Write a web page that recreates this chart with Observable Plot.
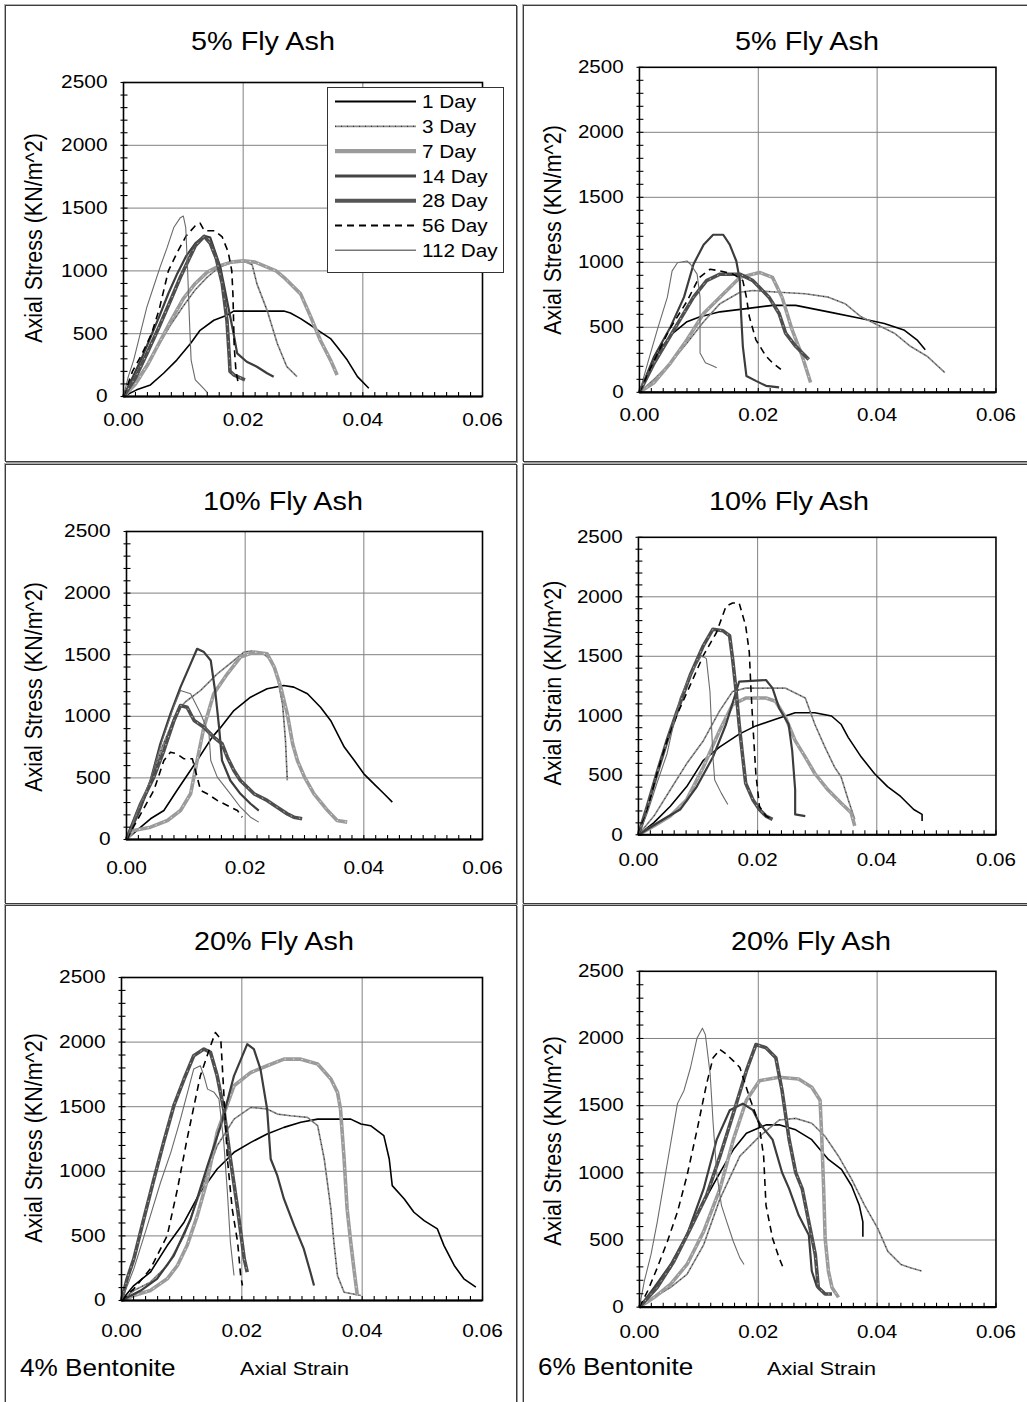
<!DOCTYPE html>
<html>
<head>
<meta charset="utf-8">
<script src="https://cdn.jsdelivr.net/npm/d3@7"></script>
<script src="https://cdn.jsdelivr.net/npm/@observablehq/plot@0.6"></script>
<style>
  html, body { margin: 0; padding: 0; background: #fff; }
  #page { position: relative; width: 1027px; height: 1402px; overflow: hidden; background: #fff;
          font-family: "Liberation Sans", Arial, Helvetica, sans-serif; color: #000; }
  .box { position: absolute; border: 1px solid #3c3c3c; box-shadow: 1px 1px 0 #9a9a9a, -1px -1px 0 #b0b0b0; }
  .panel { position: absolute; }
  .panel svg { overflow: visible; }
</style>
</head>
<body>
<div id="page"></div>
<script>
// ---------------- data ----------------
const days = ["1 Day", "3 Day", "7 Day", "14 Day", "28 Day", "56 Day", "112 Day"];
const xTicks = [0, 0.02, 0.04, 0.06];
const yTicks = [0, 500, 1000, 1500, 2000, 2500];
const titles = ["5% Fly Ash", "5% Fly Ash", "10% Fly Ash", "10% Fly Ash", "20% Fly Ash", "20% Fly Ash"];
const yLabels = ["Axial Stress (KN/m^2)", "Axial Stress (KN/m^2)", "Axial Stress (KN/m^2)",
                 "Axial Strain (KN/m^2)", "Axial Stress (KN/m^2)", "Axial Stress (KN/m^2)"];
const bentoniteLabels = ["4% Bentonite", "6% Bentonite"];
const xAxisTitle = "Axial Strain";

// [axial strain, axial stress kN/m^2]
// 4% bentonite, 5% fly ash
const b4fa5_d1 = [[0,0],[0.0022,53],[0.0045,92],[0.0067,185],[0.0089,290],[0.0112,422],[0.0128,527],[0.0151,607],[0.0173,646],[0.0184,680],[0.0268,680],[0.0279,665],[0.0296,620],[0.0313,567],[0.0329,514],[0.0346,461],[0.0357,396],[0.0374,290],[0.0391,158],[0.0410,66]];
const b4fa5_d3 = [[0,0],[0.002,120],[0.004,260],[0.006,420],[0.008,580],[0.010,720],[0.012,850],[0.014,950],[0.016,1030],[0.018,1065],[0.020,1080],[0.0215,1050],[0.0223,897],[0.024,686],[0.0257,422],[0.0273,237],[0.029,158]];
const b4fa5_d7 = [[0,0],[0.002,100],[0.004,250],[0.006,430],[0.008,610],[0.010,780],[0.012,900],[0.014,990],[0.016,1040],[0.018,1070],[0.020,1080],[0.022,1070],[0.024,1030],[0.0255,1000],[0.0268,949],[0.0296,817],[0.0313,633],[0.0329,448],[0.0346,290],[0.0357,171]];
const b4fa5_d14 = [[0,0],[0.0015,150],[0.003,300],[0.0045,470],[0.006,640],[0.0075,820],[0.009,980],[0.0105,1120],[0.012,1220],[0.0135,1280],[0.0145,1266],[0.0162,1028],[0.0173,765],[0.0184,500],[0.019,343],[0.0206,277],[0.0223,237],[0.024,185],[0.0251,158]];
const b4fa5_d28 = [[0,0],[0.002,150],[0.004,350],[0.006,560],[0.008,780],[0.0095,950],[0.011,1100],[0.012,1200],[0.0135,1275],[0.0145,1220],[0.0155,1100],[0.0165,900],[0.0173,600],[0.0177,300],[0.0178,200],[0.0185,170],[0.0203,132]];
const b4fa5_d56 = [[0,0],[0.0015,200],[0.003,330],[0.0047,500],[0.006,700],[0.0075,1000],[0.009,1150],[0.0105,1280],[0.012,1360],[0.0128,1380],[0.0135,1320],[0.0152,1320],[0.0165,1270],[0.0175,1150],[0.0181,1000],[0.0183,800],[0.0185,400],[0.0188,200],[0.0192,100]];
const b4fa5_d112 = [[0,0],[0.0008,158],[0.0017,290],[0.0028,500],[0.0039,712],[0.005,870],[0.0061,1028],[0.0073,1187],[0.0084,1345],[0.0095,1424],[0.010,1437],[0.0104,1345],[0.0107,1028],[0.011,633],[0.0113,290],[0.012,132],[0.0131,79],[0.014,32]];

// 6% bentonite, 5% fly ash
const b6fa5_d1 = [[0,0],[0.0015,150],[0.0035,330],[0.0055,450],[0.008,543],[0.0102,581],[0.01355,619],[0.018,644],[0.0224,669],[0.0263,669],[0.0318,619],[0.0373,568],[0.0412,530],[0.0445,480],[0.0467,404],[0.0481,328]];
const b6fa5_d3 = [[0,0],[0.0025,101],[0.00525,227],[0.008,379],[0.0108,543],[0.01355,682],[0.0169,770],[0.0191,783],[0.0235,770],[0.0279,758],[0.0318,732],[0.0346,682],[0.0373,581],[0.0401,518],[0.0429,455],[0.0456,354],[0.0484,278],[0.0514,152]];
const b6fa5_d7 = [[0,0],[0.0025,76],[0.00525,227],[0.008,404],[0.0108,606],[0.01355,732],[0.0169,884],[0.0202,922],[0.0224,884],[0.024,732],[0.0257,480],[0.0274,278],[0.0288,76]];
const b6fa5_d14 = [[0,0],[0.0025,278],[0.00525,505],[0.0075,732],[0.0091,985],[0.0108,1136],[0.0124,1212],[0.0141,1212],[0.0152,1136],[0.0163,1010],[0.0169,859],[0.0171,606],[0.0174,354],[0.018,126],[0.0196,88],[0.0213,50],[0.0235,38]];
const b6fa5_d28 = [[0,0],[0.0025,227],[0.0058,480],[0.0091,732],[0.0113,859],[0.01355,909],[0.0169,909],[0.0191,859],[0.0218,732],[0.0235,606],[0.0246,455],[0.0263,354],[0.0285,253]];
const b6fa5_d56 = [[0,0],[0.002,200],[0.005,480],[0.008,700],[0.010,880],[0.0119,947],[0.01355,934],[0.0158,909],[0.0174,859],[0.018,732],[0.0185,581],[0.0196,404],[0.0213,278],[0.0224,227],[0.0238,177]];
const b6fa5_d112 = [[0,0],[0.0014,227],[0.003,480],[0.0047,732],[0.0055,934],[0.0064,997],[0.008,1010],[0.0086,985],[0.0097,909],[0.0102,732],[0.0102,303],[0.0111,227],[0.0124,202],[0.013,189]];

// 4% bentonite, 10% fly ash
const b4fa10_d1 = [[0,0],[0.0024,100],[0.00405,168],[0.0063,235],[0.0085,398],[0.0102,520],[0.0119,641],[0.01445,831],[0.0159,912],[0.0181,1047],[0.0209,1155],[0.0237,1223],[0.0265,1250],[0.0282,1237],[0.0305,1183],[0.0327,1074],[0.0344,966],[0.0367,750],[0.0384,641],[0.040,533],[0.0417,452],[0.0434,371],[0.0448,303]];
const b4fa10_d3 = [[0,0],[0.002,200],[0.004,450],[0.006,750],[0.008,980],[0.0091,1074],[0.010,1120],[0.0125,1210],[0.0153,1345],[0.0181,1453],[0.0198,1521],[0.021,1530],[0.023,1510],[0.0245,1450],[0.0255,1300],[0.0263,1100],[0.0268,800],[0.0271,480]];
const b4fa10_d7 = [[0,0],[0.0012,73],[0.00405,100],[0.0069,154],[0.0091,235],[0.0108,371],[0.0119,641],[0.01305,912],[0.0147,1183],[0.017,1345],[0.0192,1480],[0.0215,1521],[0.0237,1507],[0.0249,1399],[0.026,1237],[0.0271,1020],[0.028,777],[0.0288,641],[0.030,506],[0.0316,371],[0.0339,235],[0.0355,154],[0.0372,141]];
const b4fa10_d14 = [[0,0],[0.0024,262],[0.00405,479],[0.0057,777],[0.0074,1020],[0.0091,1237],[0.0108,1426],[0.0119,1548],[0.01305,1521],[0.0142,1453],[0.015,1183],[0.0156,912],[0.0161,641],[0.0175,479],[0.0192,371],[0.0209,290],[0.0223,235]];
const b4fa10_d28 = [[0,0],[0.0024,290],[0.0046,506],[0.0063,722],[0.008,966],[0.0091,1088],[0.0102,1074],[0.0114,966],[0.01305,912],[0.0147,831],[0.0161,777],[0.017,668],[0.0181,560],[0.0192,479],[0.0215,371],[0.0237,317],[0.0254,262],[0.0271,208],[0.0282,181],[0.0296,168]];
const b4fa10_d56 = [[0,0],[0.0024,208],[0.0046,398],[0.0063,641],[0.0074,709],[0.0085,695],[0.0097,655],[0.0111,655],[0.0119,506],[0.0125,398],[0.0136,371],[0.0153,317],[0.017,276],[0.0187,235],[0.0195,181]];
const b4fa10_d112 = [[0,0],[0.002,250],[0.004,480],[0.006,800],[0.008,1080],[0.0091,1210],[0.0108,1183],[0.0125,1020],[0.0139,858],[0.0142,641],[0.0153,506],[0.0175,371],[0.0192,262],[0.0209,181],[0.0223,141]];

// 6% bentonite, 10% fly ash
const b6fa10_d1 = [[0,0],[0.0026,102],[0.00535,240],[0.0081,405],[0.0109,626],[0.0136,736],[0.0169,846],[0.0197,915],[0.023,970],[0.0263,1025],[0.0296,1025],[0.0324,998],[0.034,929],[0.0352,819],[0.0374,653],[0.0396,515],[0.0418,405],[0.044,322],[0.0462,212],[0.0476,171],[0.0476,116]];
const b6fa10_d3 = [[0,0],[0.0026,157],[0.00535,378],[0.0081,598],[0.0109,791],[0.0136,1039],[0.0158,1204],[0.018,1232],[0.0247,1232],[0.028,1149],[0.0296,929],[0.0313,736],[0.0329,570],[0.034,488],[0.0352,295],[0.0363,130]];
const b6fa10_d7 = [[0,0],[0.0026,74],[0.00535,157],[0.0081,295],[0.0109,570],[0.0136,874],[0.0158,1094],[0.018,1149],[0.0214,1149],[0.023,1122],[0.0247,984],[0.0263,791],[0.028,653],[0.0296,515],[0.0318,378],[0.034,267],[0.0357,185],[0.0363,74]];
const b6fa10_d14 = [[0,0],[0.0042,130],[0.007,212],[0.0098,405],[0.0125,653],[0.0147,929],[0.0164,1204],[0.0169,1287],[0.0214,1301],[0.0225,1232],[0.0236,1066],[0.0252,929],[0.0258,708],[0.0263,378],[0.0263,171],[0.028,157]];
const b6fa10_d28 = [[0,0],[0.0015,240],[0.0031,515],[0.0048,791],[0.0065,1039],[0.0087,1342],[0.0109,1590],[0.0125,1728],[0.0142,1714],[0.0153,1673],[0.0158,1480],[0.0164,1204],[0.0169,929],[0.0175,653],[0.018,433],[0.0192,295],[0.0203,212],[0.0214,157],[0.0225,130]];
const b6fa10_d56 = [[0,0],[0.0015,212],[0.0031,515],[0.0048,791],[0.0065,1011],[0.0087,1259],[0.0109,1507],[0.0131,1700],[0.0147,1921],[0.0158,1948],[0.0169,1948],[0.018,1755],[0.0186,1535],[0.0189,1204],[0.0192,929],[0.0197,515],[0.0203,240],[0.0214,157],[0.0225,130]];
const b6fa10_d112 = [[0,0],[0.0015,185],[0.0031,433],[0.0048,681],[0.0059,929],[0.007,1149],[0.0087,1342],[0.0106,1507],[0.0114,1480],[0.012,1204],[0.01225,929],[0.0125,653],[0.0128,460],[0.0139,350],[0.015,254]];

// 4% bentonite, 20% fly ash
const b4fa20_d1 = [[0,0],[0.00205,116],[0.0048,219],[0.0076,425],[0.0104,606],[0.0131,838],[0.0159,1018],[0.0187,1147],[0.0215,1224],[0.0242,1289],[0.027,1340],[0.0298,1379],[0.0326,1404],[0.0381,1404],[0.0398,1366],[0.0414,1353],[0.0436,1276],[0.0445,1095],[0.045,889],[0.047,786],[0.0486,683],[0.0503,618],[0.0525,554],[0.0536,425],[0.0553,271],[0.0569,168],[0.0589,103]];
const b4fa20_d3 = [[0,0],[0.00205,77],[0.0048,142],[0.0076,271],[0.0104,502],[0.0131,838],[0.0159,1198],[0.0187,1404],[0.0215,1495],[0.0242,1482],[0.0259,1443],[0.0281,1430],[0.0309,1417],[0.0326,1353],[0.0337,1095],[0.0348,709],[0.0353,451],[0.0359,193],[0.037,64],[0.0398,39]];
const b4fa20_d7 = [[0,0],[0.00205,39],[0.0048,77],[0.0076,168],[0.0093,271],[0.0109,425],[0.0126,657],[0.0143,941],[0.0159,1301],[0.0187,1662],[0.0215,1765],[0.0242,1817],[0.027,1868],[0.0298,1868],[0.0326,1830],[0.0348,1714],[0.0359,1611],[0.0364,1482],[0.037,1095],[0.0375,709],[0.0381,451],[0.0387,219],[0.0392,39]];
const b4fa20_d14 = [[0,0],[0.0032,77],[0.0059,168],[0.0087,348],[0.0115,631],[0.0143,1044],[0.0165,1353],[0.0187,1739],[0.0209,1984],[0.022,1946],[0.0231,1791],[0.0242,1482],[0.0248,1095],[0.0259,966],[0.027,786],[0.0287,580],[0.0303,399],[0.0314,219],[0.032,116]];
const b4fa20_d28 = [[0,0],[0.00094,168],[0.00205,322],[0.0037,631],[0.0054,941],[0.007,1224],[0.0087,1508],[0.0104,1714],[0.012,1894],[0.0137,1946],[0.0148,1920],[0.0159,1739],[0.017,1482],[0.0181,1095],[0.0193,709],[0.0204,322],[0.0209,219]];
const b4fa20_d56 = [[0,0],[0.00205,90],[0.0048,245],[0.0076,502],[0.0093,863],[0.0109,1250],[0.0131,1739],[0.0148,1971],[0.0156,2074],[0.0165,2023],[0.017,1611],[0.0176,1095],[0.0184,709],[0.0193,451],[0.0198,193],[0.0201,116]];
const b4fa20_d112 = [[0,0],[0.00205,245],[0.0043,580],[0.0065,915],[0.0082,1147],[0.0098,1404],[0.012,1791],[0.0131,1817],[0.0137,1739],[0.0143,1636],[0.0154,1611],[0.0162,1559],[0.017,1224],[0.0176,838],[0.0181,451],[0.0187,193]];

// 6% bentonite, 20% fly ash
const b6fa20_d1 = [[0,0],[0.0025,122],[0.00525,293],[0.008,538],[0.0108,782],[0.01355,1002],[0.0158,1173],[0.018,1295],[0.0213,1357],[0.0235,1357],[0.0263,1320],[0.029,1247],[0.0318,1100],[0.034,1026],[0.0357,904],[0.037,758],[0.0376,635],[0.0376,525]];
const b6fa20_d3 = [[0,0],[0.0025,73],[0.00525,147],[0.008,244],[0.0108,464],[0.01355,806],[0.0169,1124],[0.0202,1271],[0.0235,1393],[0.0263,1405],[0.029,1369],[0.03125,1271],[0.0335,1124],[0.0357,953],[0.0379,758],[0.0401,587],[0.0418,415],[0.044,318],[0.0456,293],[0.0475,269]];
const b6fa20_d7 = [[0,0],[0.0025,73],[0.00525,171],[0.008,318],[0.0108,562],[0.01355,880],[0.0158,1247],[0.018,1540],[0.0202,1686],[0.0235,1711],[0.0268,1699],[0.029,1637],[0.0304,1540],[0.0307,1247],[0.031,880],[0.03125,513],[0.0318,269],[0.0324,147],[0.0335,73]];
const b6fa20_d14 = [[0,0],[0.0025,147],[0.00525,318],[0.008,538],[0.0108,880],[0.013,1247],[0.0152,1466],[0.0174,1515],[0.0191,1466],[0.0202,1369],[0.0224,1247],[0.024,1002],[0.0252,880],[0.0268,684],[0.0285,538],[0.029,269],[0.0299,147]];
const b6fa20_d28 = [[0,0],[0.003,147],[0.0058,342],[0.0086,587],[0.0113,831],[0.01355,1124],[0.0158,1442],[0.018,1760],[0.0196,1955],[0.0213,1931],[0.02295,1857],[0.024,1613],[0.0252,1247],[0.0263,1002],[0.0274,880],[0.0285,635],[0.0296,391],[0.0301,147],[0.03125,98],[0.0324,98]];
const b6fa20_d56 = [[0,0],[0.0014,122],[0.003,293],[0.0047,489],[0.0064,709],[0.008,978],[0.0097,1320],[0.0113,1662],[0.0124,1857],[0.01355,1918],[0.01465,1882],[0.0158,1833],[0.0169,1784],[0.0185,1564],[0.0201,1369],[0.0209,1124],[0.0213,758],[0.0224,513],[0.0235,367],[0.0243,281]];
const b6fa20_d112 = [[0,0],[0.00083,196],[0.00194,391],[0.003,635],[0.0047,1075],[0.0064,1515],[0.0075,1613],[0.0086,1784],[0.0097,2004],[0.0106,2077],[0.0111,2028],[0.0119,1735],[0.0124,1369],[0.013,1002],[0.0138,758],[0.0147,635],[0.0158,489],[0.0169,367],[0.0176,318]];

const panelCurves = [
  [b4fa5_d1, b4fa5_d3, b4fa5_d7, b4fa5_d14, b4fa5_d28, b4fa5_d56, b4fa5_d112],
  [b6fa5_d1, b6fa5_d3, b6fa5_d7, b6fa5_d14, b6fa5_d28, b6fa5_d56, b6fa5_d112],
  [b4fa10_d1, b4fa10_d3, b4fa10_d7, b4fa10_d14, b4fa10_d28, b4fa10_d56, b4fa10_d112],
  [b6fa10_d1, b6fa10_d3, b6fa10_d7, b6fa10_d14, b6fa10_d28, b6fa10_d56, b6fa10_d112],
  [b4fa20_d1, b4fa20_d3, b4fa20_d7, b4fa20_d14, b4fa20_d28, b4fa20_d56, b4fa20_d112],
  [b6fa20_d1, b6fa20_d3, b6fa20_d7, b6fa20_d14, b6fa20_d28, b6fa20_d56, b6fa20_d112]
];

// ---------------- styles & layout ----------------
const seriesStyle = {
  "1 Day":   [{stroke: "#000", strokeWidth: 1.6}],
  "3 Day":   [{stroke: "#8a8a8a", strokeWidth: 1.7}, {stroke: "#1e1e1e", strokeWidth: 1, strokeDasharray: "1,4"}],
  "7 Day":   [{stroke: "#9b9b9b", strokeWidth: 3.6}, {stroke: "#fff", strokeWidth: 0.9, strokeDasharray: "1.5,7", strokeOpacity: 0.8}],
  "14 Day":  [{stroke: "#3c3c3c", strokeWidth: 2.2}],
  "28 Day":  [{stroke: "#4e4e4e", strokeWidth: 3.6}, {stroke: "#fff", strokeWidth: 0.9, strokeDasharray: "1.5,7", strokeOpacity: 0.7}],
  "56 Day":  [{stroke: "#000", strokeWidth: 1.6, strokeDasharray: "7,5"}],
  "112 Day": [{stroke: "#6a6a6a", strokeWidth: 1.1}]
};
const legendStyle = {
  "1 Day":   [{stroke: "#000", strokeWidth: 2}],
  "3 Day":   [{stroke: "#8a8a8a", strokeWidth: 1.7}, {stroke: "#1e1e1e", strokeWidth: 1, strokeDasharray: "1,5"}],
  "7 Day":   [{stroke: "#9b9b9b", strokeWidth: 4.3}],
  "14 Day":  [{stroke: "#444", strokeWidth: 3}],
  "28 Day":  [{stroke: "#555", strokeWidth: 4}],
  "56 Day":  [{stroke: "#000", strokeWidth: 2, strokeDasharray: "7,5"}],
  "112 Day": [{stroke: "#777", strokeWidth: 1.5}]
};

// frame [left, top, right, bottom] in page px, title [cx, baseline], y label center [cx, cy], x label padding
const layout = [
  {frame: [123, 82, 482, 396],  title: [263, 50],  ylab: [35, 238],   xpad: 16},
  {frame: [640, 67, 1002, 397], title: [807, 50],  ylab: [554, 230],  xpad: 16},
  {frame: [126, 531, 482, 839], title: [283, 510], ylab: [35, 687],   xpad: 21},
  {frame: [639, 537, 1002, 839],title: [789, 510], ylab: [554, 683],  xpad: 19},
  {frame: [121, 977, 482, 1300],title: [274, 950], ylab: [35, 1138],  xpad: 23},
  {frame: [640, 971, 1002, 1312],title: [811, 950],ylab: [554, 1141], xpad: 18}
];
const boxes = [[5, 5, 515, 460], [523, 5, 1040, 460], [5, 464, 515, 902], [523, 464, 1040, 902], [5, 905, 515, 1420], [523, 905, 1040, 1420]];

const FONT = "'Liberation Sans', Arial, Helvetica, sans-serif";
const page = document.getElementById("page");

boxes.forEach(([l, t, r, b]) => {
  const d = document.createElement("div");
  d.className = "box";
  d.style.left = l + "px"; d.style.top = t + "px";
  d.style.width = (r - l) + "px"; d.style.height = (b - t) + "px";
  page.appendChild(d);
});

function addText(str, x, base, size, anchor, sx) {
  const d = document.createElement("div");
  d.textContent = str;
  d.style.cssText = `position:absolute;white-space:nowrap;font-family:${FONT};font-size:${size}px;line-height:${size}px;top:${base - 0.8465 * size}px;left:${x}px;`;
  if (anchor === "middle") { d.style.transformOrigin = "50% 50%"; d.style.transform = `translateX(-50%) scaleX(${sx})`; }
  else { d.style.transformOrigin = "0 50%"; d.style.transform = `scaleX(${sx})`; }
  page.appendChild(d);
}
function addYLabel(str, cx, cy, size, sx) {
  const d = document.createElement("div");
  d.textContent = str;
  d.style.cssText = `position:absolute;white-space:nowrap;font-family:${FONT};font-size:${size}px;line-height:${size}px;left:${cx}px;top:${cy}px;transform:translate(-50%,-50%) scale(${sx},1) rotate(-90deg);`;
  page.appendChild(d);
}

// tick glyphs (symbols drawn by Plot.dot at scaled positions)
const tickUp = {draw(ctx) { ctx.moveTo(0, 0); ctx.lineTo(0, -4.5); }};
const tickAcross = {draw(ctx) { ctx.moveTo(-3, 0); ctx.lineTo(4, 0); }};

const xMinor = d3.range(0, 0.0601, 0.002);
const yMinor = d3.range(0, 2501, 100);
const mL = 70, mR = 32, mT = 12, mB = 48;

layout.forEach((lay, p) => {
  const [L, T, R, B] = lay.frame;
  const curveMarks = [];
  panelCurves[p].forEach((pts, i) => {
    seriesStyle[days[i]].forEach(st => curveMarks.push(
      Plot.line(pts, {x: d => d[0], y: d => d[1], strokeLinejoin: "round", strokeLinecap: "butt", ...st})
    ));
  });
  const svg = Plot.plot({
    width: (R - L) + mL + mR,
    height: (B - T) + mT + mB,
    marginLeft: mL, marginRight: mR, marginTop: mT, marginBottom: mB,
    x: {domain: [0, 0.06]},
    y: {domain: [0, 2500]},
    style: {fontFamily: FONT, fontSize: "18.5px", color: "#000", background: "transparent", overflow: "visible"},
    marks: [
      Plot.ruleX([0.02, 0.04], {stroke: "#808080", strokeWidth: 1}),
      Plot.ruleY([500, 1000, 1500, 2000], {stroke: "#808080", strokeWidth: 1}),
      ...curveMarks,
      Plot.frame({stroke: "#000", strokeWidth: 1.6}),
      Plot.ruleY([0], {stroke: "#000", strokeWidth: 2.2}),
      Plot.dot(xMinor, {x: d => d, y: 0, symbol: tickUp, r: 3, fill: "none", stroke: "#000", strokeWidth: 1.1}),
      Plot.dot(yMinor, {x: 0, y: d => d, symbol: tickAcross, r: 3, fill: "none", stroke: "#000", strokeWidth: 1.1}),
      Plot.axisX({ticks: xTicks, tickSize: 0, tickPadding: lay.xpad, tickFormat: d3.format(".2f"), label: null}),
      Plot.axisY({ticks: yTicks, tickSize: 0, tickPadding: 16, tickFormat: d => String(d), label: null})
    ]
  });
  d3.select(svg).selectAll('g[aria-label$="tick label"] text').each(function () {
    const t = this.getAttribute("transform") || "";
    this.setAttribute("transform", t + " scale(1.13,1)");
  });
  const wrap = document.createElement("div");
  wrap.className = "panel";
  wrap.style.left = (L - mL) + "px";
  wrap.style.top = (T - mT) + "px";
  wrap.appendChild(svg);
  page.appendChild(wrap);

  addText(titles[p], lay.title[0], lay.title[1], 25, "middle", 1.15);
  addYLabel(yLabels[p], lay.ylab[0], lay.ylab[1], 21.5, 1.13);
});

// bottom labels
addText(bentoniteLabels[0], 20, 1376, 24, "start", 1.09);
addText(xAxisTitle, 240, 1376, 18.6, "start", 1.16);
addText(bentoniteLabels[1], 538, 1376, 23.5, "start", 1.11);
addText(xAxisTitle, 767, 1376, 18.6, "start", 1.16);

// legend (top-left panel)
(function () {
  const lx = 327, ly = 87, lw = 176, lh = 185;
  const wrap = document.createElement("div");
  wrap.style.cssText = `position:absolute;left:${lx}px;top:${ly}px;`;
  const svg = d3.create("svg").attr("width", lw + 2).attr("height", lh + 2).style("overflow", "visible");
  svg.append("rect").attr("x", 0.5).attr("y", 0.5).attr("width", lw).attr("height", lh)
     .attr("fill", "#fff").attr("stroke", "#333").attr("stroke-width", 1);
  days.forEach((d, i) => {
    const cy = 14.5 + i * 24.8;
    legendStyle[d].forEach(st => {
      svg.append("line").attr("x1", 8).attr("x2", 89).attr("y1", cy).attr("y2", cy)
        .attr("stroke", st.stroke).attr("stroke-width", st.strokeWidth)
        .attr("stroke-dasharray", st.strokeDasharray || null);
    });
    svg.append("text").attr("transform", `translate(95,${cy + 6.6}) scale(1.12,1)`)
      .attr("font-family", FONT).attr("font-size", 18.5).attr("fill", "#000").text(d);
  });
  wrap.appendChild(svg.node());
  page.appendChild(wrap);
})();
</script>
</body>
</html>
